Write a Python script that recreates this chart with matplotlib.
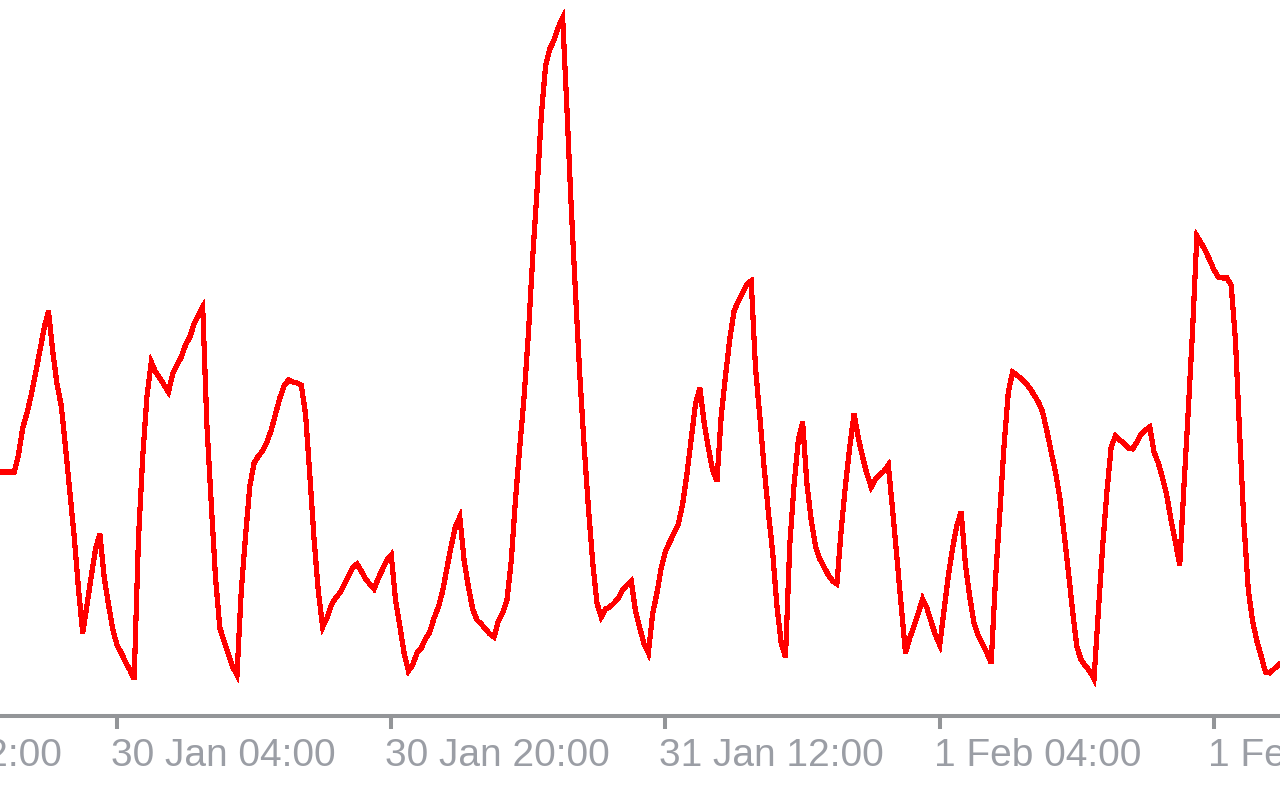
import matplotlib
matplotlib.use("Agg")
from matplotlib import pyplot as plt
from matplotlib import transforms
import pandas as pd

# 15 minute samples starting 29 Jan 21:00 (arbitrary units)
start = "2024-01-29 21:00"
values = [
    244, 244, 244, 244, 244, 261, 288, 303, 321, 343, 365, 388, 405, 365, 332, 310,
    268, 224, 180, 128, 83, 111, 140, 167, 182, 139, 112, 87, 71, 63, 54, 46,
    37, 176, 259, 320, 354, 344, 338, 331, 324, 342, 351, 359, 371, 379, 392, 401,
    409, 289, 212, 138, 88, 75, 62, 49, 41, 125, 180, 230, 253, 260, 265, 274,
    286, 302, 318, 330, 336, 334, 333, 331, 302, 241, 176, 124, 89, 98, 111, 118,
    123, 131, 140, 148, 152, 145, 137, 132, 127, 138, 147, 156, 161, 116, 90, 63,
    45, 51, 63, 68, 77, 84, 98, 109, 125, 148, 170, 190, 199, 156, 129, 107,
    96, 92, 87, 82, 79, 95, 103, 116, 155, 217, 269, 319, 382, 458, 524, 599,
    650, 667, 676, 689, 698, 607, 509, 423, 341, 271, 209, 154, 113, 99, 107, 109,
    113, 118, 126, 131, 135, 105, 88, 72, 63, 102, 123, 148, 165, 174, 183, 192,
    212, 242, 277, 312, 328, 294, 268, 246, 235, 300, 340, 377, 405, 415, 423, 432,
    435, 348, 300, 249, 204, 164, 110, 73, 59, 171, 231, 276, 294, 232, 196, 170,
    157, 149, 141, 135, 132, 186, 231, 269, 302, 278, 259, 242, 229, 237, 241, 245,
    251, 206, 158, 110, 63, 78, 90, 103, 117, 108, 94, 81, 71, 106, 140, 168,
    191, 204, 151, 119, 93, 80, 72, 63, 53, 136, 202, 270, 324, 344, 341, 337,
    333, 328, 321, 314, 304, 285, 264, 244, 219, 183, 145, 105, 69, 56, 50, 45,
    37, 104, 169, 224, 269, 280, 276, 273, 268, 267, 274, 282, 286, 289, 264, 253,
    238, 220, 195, 174, 151, 231, 306, 386, 480, 473, 465, 456, 446, 439, 438, 438,
    431, 376, 281, 191, 126, 95, 75, 60, 44, 43, 47, 51, 54,
]
tick_times = ["2024-01-29 12:00", "2024-01-30 04:00", "2024-01-30 20:00",
              "2024-01-31 12:00", "2024-02-01 04:00", "2024-02-01 20:00"]
tick_labels = ["29 Jan 12:00", "30 Jan 04:00", "30 Jan 20:00",
               "31 Jan 12:00", "1 Feb 04:00", "1 Feb 20:00"]

times = pd.date_range(start, periods=len(values), freq="15min")

fig = plt.figure(figsize=(12.8, 8), dpi=100)
ax = fig.add_axes([0, 84 / 800, 1, 716 / 800])

ax.plot(times, values, color="#ff0000", lw=3, antialiased=False, solid_joinstyle="miter")

grey = "#939598"
txt_col = "#9b9ea5"
for s in ["left", "right", "top"]:
    ax.spines[s].set_visible(False)
ax.spines["bottom"].set_color(grey)
ax.spines["bottom"].set_linewidth(2.9)
ax.set_yticks([])

ticks = pd.to_datetime(tick_times)
ax.set_xticks(ticks[1:])
ax.set_xticklabels(tick_labels[1:], fontsize=28, family="Liberation Sans", color=txt_col, ha="left")
ax.tick_params(axis="x", direction="out", length=9.5, width=2.9, color=grey, pad=6)
shift = transforms.ScaledTranslation(-6 / 100, 0, fig.dpi_scale_trans)
for lab in ax.get_xticklabels():
    lab.set_transform(lab.get_transform() + shift)

# first label belongs to a tick left of the visible range, only its tail shows
first = ax.text(ticks[0], 0, tick_labels[0], fontsize=28, family="Liberation Sans",
                color=txt_col, ha="left", va="top", clip_on=False,
                transform=ax.get_xaxis_transform())
first.set_transform(ax.get_xaxis_transform()
                    + transforms.ScaledTranslation(-6 / 100, -(9.5 + 6) / 72, fig.dpi_scale_trans))

t0 = pd.Timestamp(start)
ax.set_xlim(t0 + pd.Timedelta(hours=0.175), t0 + pd.Timedelta(hours=74.85))
ax.set_ylim(0, 716)

fig.savefig("out.png", dpi=100)
